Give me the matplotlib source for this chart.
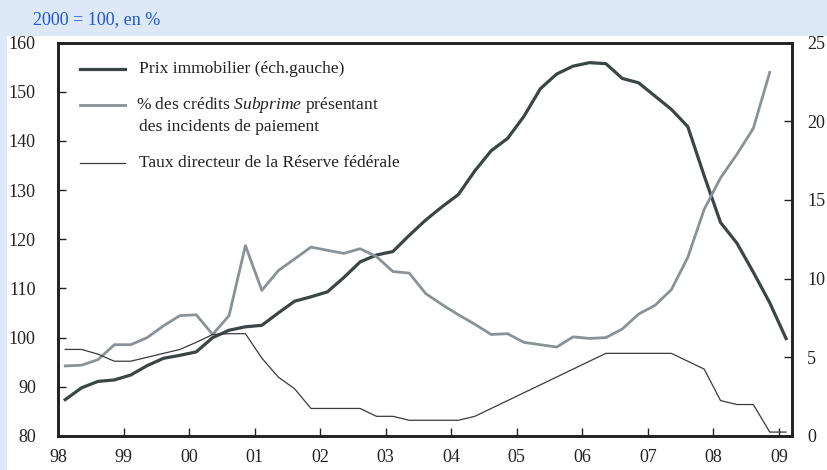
import matplotlib
matplotlib.use("Agg")
import matplotlib.pyplot as plt
import numpy as np
import pandas as pd
from matplotlib.patches import Rectangle

plt.rcParams['font.family'] = ['Liberation Serif', 'DejaVu Serif']
plt.rcParams['mathtext.fontset'] = 'custom'
plt.rcParams['mathtext.rm'] = 'Liberation Serif'
plt.rcParams['mathtext.it'] = 'Liberation Serif:italic'

# ---- data (quarterly, 1998Q1 - 2009Q1) ----
quarters = pd.period_range('1998Q1', '2009Q1', freq='Q')

house_price = [87.4, 89.8, 91.1, 91.4, 92.4, 94.3, 95.8, 96.4, 97.1, 100.0,
               101.5, 102.2, 102.5, 105.0, 107.4, 108.3, 109.3, 112.2, 115.4, 116.8,
               117.5, 120.8, 123.9, 126.6, 129.1, 133.9, 138.0, 140.5, 145.0, 150.6,
               153.6, 155.2, 155.9, 155.7, 152.7, 151.8, 149.1, 146.4, 142.9, 132.9,
               123.4, 119.2, 113.3, 107.1, 99.8]

subprime_delinq = [4.45, 4.5, 4.85, 5.8, 5.8, 6.25, 7.0, 7.65, 7.7, 6.45,
                   7.65, 12.1, 9.25, 10.5, 11.25, 12.0, 11.8, 11.6, 11.9, 11.4,
                   10.45, 10.35, 9.05, 8.35, 7.7, 7.1, 6.45, 6.5, 5.95, 5.8,
                   5.65, 6.3, 6.2, 6.25, 6.8, 7.75, 8.3, 9.3, 11.35, 14.4,
                   16.4, 17.9, 19.55, 23.1]

fed_rate = [5.5, 5.5, 5.2, 4.75, 4.75, 5.0, 5.25, 5.5, 5.95, 6.45,
            6.5, 6.5, 4.95, 3.75, 3.0, 1.75, 1.75, 1.75, 1.75, 1.25,
            1.25, 1.0, 1.0, 1.0, 1.0, 1.25, 1.75, 2.25, 2.75, 3.25,
            3.75, 4.25, 4.75, 5.25, 5.25, 5.25, 5.25, 5.25, 4.75, 4.25,
            2.25, 2.0, 2.0, 0.25, 0.25]

year_ticks = list(range(1998, 2010))
year_labels = ['98', '99', '00', '01', '02', '03', '04', '05', '06', '07', '08', '09']

left_ticks = [80, 90, 100, 110, 120, 130, 140, 150, 160]
right_ticks = [0, 5, 10, 15, 20, 25]

legend_labels = ["Prix immobilier (éch.gauche)",
                 "% des crédits $\\mathit{Subprime}$ présentant",
                 "des incidents de paiement",
                 "Taux directeur de la Réserve fédérale"]
subtitle = "2000 = 100, en %"

# ---- positions ----
xq = np.array([q.year + (q.quarter - 1) / 4 + 0.11 for q in quarters])

c_dark = '#3b4545'
c_gray = '#8b9297'
c_thin = '#3a3a3a'
txt = '#222222'

fig = plt.figure(figsize=(8.27, 4.70), dpi=100)
fig.patch.set_facecolor('white')
bg = '#dde9f7'
fig.add_artist(Rectangle((0, 1 - 36 / 470), 1, 36 / 470, transform=fig.transFigure,
                         facecolor=bg, edgecolor='none', zorder=0))
fig.add_artist(Rectangle((0, 0), 7 / 827, 1, transform=fig.transFigure,
                         facecolor=bg, edgecolor='none', zorder=0))
fig.text(33 / 827, 1 - 20 / 470, subtitle, color='#1f55d8', fontsize=13,
         va='center', ha='left')

ax = fig.add_axes([58 / 827, 34 / 470, 734 / 827, 393.5 / 470])
ax.set_facecolor('none')
ax2 = ax.twinx()

ax.plot(xq, house_price, color=c_dark, lw=2.3, zorder=3, solid_joinstyle='round')
ax2.plot(xq[:len(subprime_delinq)], subprime_delinq, color=c_gray, lw=2.0, zorder=2)
ax2.plot(xq, fed_rate, color=c_thin, lw=0.9, zorder=2)

ax.set_xlim(1998, 2009.2)
ax.set_ylim(80, 160)
ax2.set_ylim(0, 25)

ax.set_xticks(year_ticks)
ax.set_xticklabels(year_labels)
ax.set_yticks(left_ticks)
ax2.set_yticks(right_ticks)

ax.tick_params(axis='x', direction='in', length=6, width=1.0, pad=9, labelsize=13,
               colors=txt, top=False)
ax.tick_params(axis='y', direction='in', length=6, width=1.0, pad=16, labelsize=13,
               colors=txt)
ax2.tick_params(axis='y', direction='in', length=6, width=1.0, pad=11, labelsize=13,
                colors=txt)
for a in (ax, ax2):
    for s in a.spines.values():
        s.set_linewidth(1.9)
        s.set_color('#222222')

# ---- legend (manual) ----
def legend_line(y, color, lw):
    ax.plot([0.030, 0.091], [y, y], transform=ax.transAxes, color=color, lw=lw,
            clip_on=False, zorder=5)

fs = 12.6
legend_line(0.933, c_dark, 2.3)
ax.text(0.110, 0.933, legend_labels[0], transform=ax.transAxes, va='center',
        ha='left', fontsize=fs, color=txt)
legend_line(0.842, c_gray, 2.0)
ax.text(0.106, 0.842, legend_labels[1], transform=ax.transAxes, va='center',
        ha='left', fontsize=fs, color=txt)
ax.text(0.110, 0.785, legend_labels[2], transform=ax.transAxes, va='center',
        ha='left', fontsize=fs, color=txt)
legend_line(0.694, c_thin, 0.9)
ax.text(0.110, 0.694, legend_labels[3], transform=ax.transAxes, va='center',
        ha='left', fontsize=fs, color=txt)

fig.savefig('out.png', dpi=100, facecolor=fig.get_facecolor())
